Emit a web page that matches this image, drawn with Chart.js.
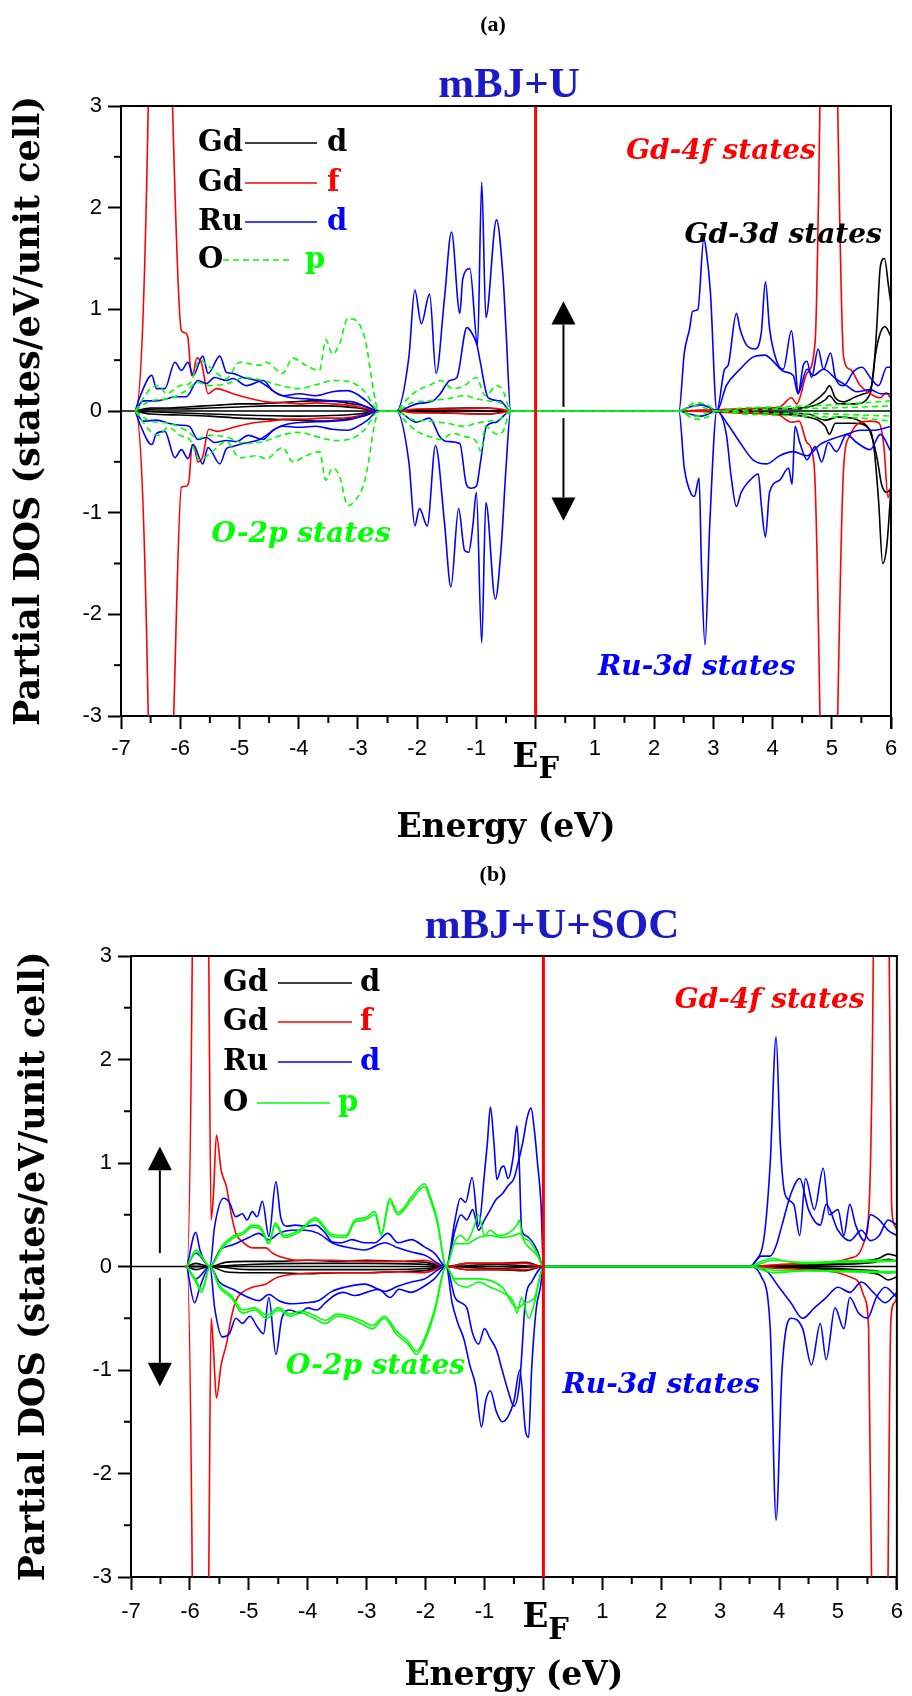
<!DOCTYPE html>
<html><head><meta charset="utf-8">
<script src="https://cdn.jsdelivr.net/npm/chart.js@4.4.1/dist/chart.umd.min.js"></script>
<style>
html,body{margin:0;padding:0;background:#fff;}
#wrap{position:relative;width:912px;height:1696px;}
canvas{position:absolute;left:0;width:912px;height:848px;}
#ca{top:0}
#cb{top:848px}
</style></head><body>
<div id="wrap"><canvas id="ca" width="912" height="848"></canvas><canvas id="cb" width="912" height="848"></canvas></div>
<script>
// ---------- axis ticks ----------
const xTickValues = [-7,-6,-5,-4,-3,-2,-1,0,1,2,3,4,5,6];
const yTickValues = [-3,-2,-1,0,1,2,3];
const xMinorValues = [-6.5,-5.5,-4.5,-3.5,-2.5,-1.5,-0.5,0.5,1.5,2.5,3.5,4.5,5.5];
const yMinorValues = [-2.5,-1.5,-0.5,0.5,1.5,2.5];
const fermiLabel = ['E','F'];
const legendA = [['Gd','d'],['Gd','f'],['Ru','d'],['O','p']];

// ---------- (a) mBJ+U : [energy, PDOS] ----------
const aGdfUp = [[-6.8,0],[-6.76,0],[-6.54,3.0],[-6.5,5],[-6.2,5],[-6.13,3.0],[-5.98,0.79],[-5.92,0.77],[-5.87,0.72],[-5.81,0.35],[-5.78,0.37],[-5.72,0.52],[-5.64,0.47],[-5.53,0.17],[-5.39,0.22],[-5.11,0.17],[-4.8,0.12],[-4.55,0.09],[-4.2,0.08],[-3.99,0.07],[-3.7,0.08],[-3.43,0.07],[-3.2,0.06],[-2.98,0.04],[-2.64,0],[-2.35,0],[-2.0,0.02],[-1.5,0.02],[-1.0,0.03],[-0.6,0.02],[-0.42,0],[2.42,0],[3.0,0.01],[3.5,0.02],[4.12,0.04],[4.32,0.13],[4.41,0.07],[4.58,0.37],[4.72,0.69],[4.8,3.0],[4.84,5],[5.05,5],[5.1,3.0],[5.2,0.53],[5.31,0.41],[5.48,0.25],[5.65,0.17],[5.82,0.13],[5.92,0.18],[6.0,0.12]];
const aGdfDn = [[-6.8,0],[-6.76,0],[-6.54,-3.0],[-6.5,-5],[-6.2,-5],[-6.11,-3.0],[-5.98,-0.75],[-5.9,-0.74],[-5.85,-0.68],[-5.8,-0.33],[-5.76,-0.36],[-5.7,-0.5],[-5.62,-0.45],[-5.52,-0.18],[-5.38,-0.2],[-5.1,-0.16],[-4.8,-0.12],[-4.5,-0.1],[-4.2,-0.08],[-3.9,-0.08],[-3.6,-0.07],[-3.3,-0.07],[-3.0,-0.05],[-2.64,0],[-2.35,0],[-2.0,-0.02],[-1.5,-0.02],[-1.0,-0.03],[-0.6,-0.02],[-0.42,0],[2.42,0],[3.5,-0.02],[4.1,-0.04],[4.32,-0.11],[4.45,-0.1],[4.58,-0.31],[4.7,-0.52],[4.8,-3.0],[4.84,-5],[5.05,-5],[5.1,-3.0],[5.2,-0.56],[5.3,-0.25],[5.45,-0.12],[5.65,-0.1],[5.8,-0.12],[5.88,-0.35],[5.95,-0.85],[6.0,-0.75]];
const aGddUp1 = [[-6.76,0],[-6.5,0.03],[-6.2,0.03],[-5.9,0.04],[-5.6,0.05],[-5.3,0.06],[-5.0,0.07],[-4.7,0.07],[-4.4,0.08],[-4.1,0.09],[-3.8,0.1],[-3.5,0.1],[-3.2,0.08],[-2.9,0.05],[-2.64,0],[-2.35,0],[-1.8,0.02],[-1.2,0.03],[-0.8,0.03],[-0.42,0],[2.42,0],[3.0,0.01],[3.5,0.02],[4.0,0.03],[4.46,0.02],[4.69,0.09],[4.89,0.19],[4.96,0.25],[5.06,0.13],[5.2,0.09],[5.37,0.13],[5.54,0.17],[5.65,0.21],[5.71,0.41],[5.76,0.83],[5.82,1.42],[5.89,1.5],[5.96,1.22],[6.0,1.05]];
const aGddUp2 = [[-6.76,0],[-6.4,0.02],[-6.0,0.02],[-5.5,0.03],[-5.0,0.04],[-4.5,0.05],[-4.0,0.05],[-3.5,0.05],[-3.0,0.03],[-2.64,0],[-2.35,0],[-1.5,0.01],[-0.42,0],[2.42,0],[4.0,0.02],[4.6,0.04],[4.89,0.11],[4.96,0.15],[5.1,0.07],[5.4,0.07],[5.65,0.17],[5.73,0.53],[5.82,0.77],[5.9,0.83],[6.0,0.73]];
const aGddDn1 = [[-6.76,0],[-6.5,-0.03],[-6.0,-0.04],[-5.5,-0.05],[-5.0,-0.07],[-4.5,-0.08],[-4.0,-0.09],[-3.6,-0.1],[-3.2,-0.08],[-2.9,-0.05],[-2.64,0],[-2.35,0],[-1.5,-0.02],[-0.8,-0.03],[-0.42,0],[2.42,0],[4.0,-0.03],[4.6,-0.06],[4.89,-0.15],[4.96,-0.23],[5.06,-0.12],[5.37,-0.12],[5.65,-0.19],[5.72,-0.4],[5.79,-0.88],[5.86,-1.5],[5.93,-1.32],[6.0,-0.76]];
const aGddDn2 = [[-6.76,0],[-6.0,-0.02],[-5.0,-0.04],[-4.0,-0.05],[-3.0,-0.03],[-2.64,0],[2.42,0],[4.6,-0.03],[4.89,-0.09],[5.1,-0.06],[5.6,-0.15],[5.7,-0.3],[5.77,-0.48],[5.84,-0.72],[5.93,-0.8],[6.0,-0.76]];
const aRudUp1 = [[-6.76,0],[-6.68,0.14],[-6.48,0.35],[-6.4,0.22],[-6.26,0.22],[-6.09,0.48],[-5.98,0.4],[-5.87,0.48],[-5.78,0.35],[-5.62,0.54],[-5.53,0.37],[-5.33,0.54],[-5.22,0.38],[-5.11,0.37],[-4.94,0.33],[-4.66,0.29],[-4.55,0.25],[-4.27,0.15],[-3.99,0.17],[-3.71,0.15],[-3.43,0.19],[-3.17,0.2],[-3.03,0.17],[-2.86,0.1],[-2.64,0],[-2.35,0],[-2.14,0.53],[-2.04,1.19],[-1.93,0.86],[-1.79,1.15],[-1.68,0.37],[-1.54,1.1],[-1.42,1.76],[-1.28,0.96],[-1.23,1.3],[-1.11,1.4],[-0.98,0.65],[-0.91,2.25],[-0.84,0.92],[-0.66,1.88],[-0.55,1.32],[-0.5,0.8],[-0.42,0],[2.42,0],[2.51,0.57],[2.6,0.81],[2.65,0.98],[2.74,1.0],[2.84,1.7],[2.88,1.58],[2.95,1.18],[3.06,0],[3.19,0.41],[3.25,0.45],[3.39,0.96],[3.45,0.81],[3.56,0.65],[3.7,0.61],[3.81,0.77],[3.88,1.27],[3.95,0.81],[4.07,0.49],[4.18,0.41],[4.32,0.79],[4.38,0.49],[4.43,0.17],[4.52,0.45],[4.58,0.49],[4.66,0.33],[4.77,0.61],[4.86,0.41],[4.98,0.57],[5.06,0.33],[5.2,0.25],[5.37,0.39],[5.51,0.43],[5.65,0.33],[5.79,0.25],[5.93,0.43],[6.0,0.43]];
const aRudUp2 = [[-6.76,0],[-6.62,0.1],[-6.4,0.1],[-6.23,0.12],[-6.09,0.14],[-5.9,0.14],[-5.7,0.3],[-5.56,0.27],[-5.42,0.33],[-5.22,0.3],[-5.11,0.32],[-4.88,0.25],[-4.6,0.3],[-4.44,0.2],[-4.21,0.14],[-3.88,0.12],[-3.43,0.1],[-3.09,0.09],[-2.64,0],[-2.35,0],[-2.01,0.07],[-1.73,0.1],[-1.61,0.17],[-1.45,0.3],[-1.33,0.33],[-1.16,0.82],[-1.08,0.77],[-0.99,0.65],[-0.94,0.5],[-0.8,0.13],[-0.6,0.1],[-0.42,0],[2.42,0],[2.6,0.04],[2.8,0.06],[2.95,0.03],[3.06,0],[3.22,0.25],[3.45,0.41],[3.67,0.53],[3.87,0.55],[4.01,0.49],[4.18,0.39],[4.35,0.35],[4.43,0.17],[4.58,0.41],[4.69,0.35],[4.86,0.41],[5.08,0.31],[5.25,0.25],[5.42,0.19],[5.65,0.21],[5.82,0.17],[6.0,0.17]];
const aRudDn1 = [[-6.76,0],[-6.68,-0.13],[-6.48,-0.33],[-6.4,-0.22],[-6.26,-0.2],[-6.09,-0.46],[-5.98,-0.38],[-5.87,-0.47],[-5.78,-0.33],[-5.62,-0.52],[-5.53,-0.36],[-5.33,-0.52],[-5.22,-0.37],[-5.11,-0.35],[-4.94,-0.32],[-4.66,-0.28],[-4.55,-0.24],[-4.27,-0.15],[-3.99,-0.16],[-3.71,-0.15],[-3.43,-0.18],[-3.17,-0.19],[-3.03,-0.16],[-2.86,-0.1],[-2.64,0],[-2.35,0],[-2.14,-0.5],[-2.04,-1.13],[-1.96,-0.96],[-1.83,-1.13],[-1.69,-0.34],[-1.54,-1.09],[-1.43,-1.73],[-1.3,-0.96],[-1.2,-1.37],[-1.13,-1.39],[-1.06,-1.13],[-1.0,-0.8],[-0.91,-2.28],[-0.84,-0.9],[-0.68,-1.85],[-0.58,-1.33],[-0.5,-0.56],[-0.42,0],[2.42,0],[2.51,-0.56],[2.63,-0.82],[2.68,-0.84],[2.76,-0.66],[2.8,-1.52],[2.86,-2.3],[2.94,-1.12],[3.06,0],[3.22,-0.23],[3.3,-0.64],[3.39,-0.94],[3.47,-0.8],[3.62,-0.68],[3.76,-0.62],[3.81,-0.92],[3.88,-1.24],[3.95,-0.8],[4.12,-0.68],[4.27,-0.56],[4.33,-0.72],[4.38,-0.15],[4.46,-0.31],[4.58,-0.48],[4.72,-0.35],[4.83,-0.5],[4.94,-0.31],[5.08,-0.4],[5.25,-0.23],[5.42,-0.31],[5.65,-0.38],[5.82,-0.23],[6.0,-0.4]];
const aRudDn2 = [[-6.76,0],[-6.62,-0.1],[-6.4,-0.09],[-6.2,-0.12],[-6.0,-0.14],[-5.85,-0.15],[-5.7,-0.28],[-5.56,-0.26],[-5.42,-0.31],[-5.22,-0.29],[-5.05,-0.3],[-4.85,-0.24],[-4.6,-0.28],[-4.44,-0.19],[-4.2,-0.13],[-3.9,-0.11],[-3.45,-0.1],[-3.1,-0.08],[-2.64,0],[-2.35,0],[-2.01,-0.11],[-1.79,-0.07],[-1.62,-0.25],[-1.49,-0.3],[-1.28,-0.32],[-1.17,-0.72],[-1.09,-0.76],[-1.0,-0.74],[-0.93,-0.5],[-0.83,-0.15],[-0.67,-0.11],[-0.42,0],[2.42,0],[2.6,-0.03],[2.8,-0.05],[3.06,0],[3.22,-0.11],[3.45,-0.31],[3.67,-0.48],[3.9,-0.52],[4.12,-0.44],[4.35,-0.4],[4.58,-0.44],[4.8,-0.33],[5.03,-0.27],[5.25,-0.23],[5.48,-0.19],[5.7,-0.19],[6.0,-0.15]];
const aOpUp1 = [[-6.76,0],[-6.5,0.22],[-6.37,0.25],[-6.23,0.17],[-6.0,0.25],[-5.84,0.27],[-5.67,0.5],[-5.5,0.43],[-5.22,0.32],[-5.0,0.48],[-4.66,0.45],[-4.55,0.48],[-4.27,0.37],[-4.1,0.52],[-3.88,0.45],[-3.65,0.4],[-3.54,0.7],[-3.43,0.56],[-3.31,0.66],[-3.17,0.91],[-3.03,0.89],[-2.89,0.73],[-2.64,0],[-2.35,0],[-2.2,0.1],[-2.0,0.2],[-1.8,0.25],[-1.6,0.3],[-1.4,0.22],[-1.2,0.25],[-1.0,0.33],[-0.85,0.15],[-0.65,0.25],[-0.55,0.2],[-0.42,0],[2.42,0],[2.7,0.08],[2.9,0.06],[3.06,0],[3.5,0.03],[4.0,0.04],[4.5,0.05],[5.0,0.06],[5.5,0.08],[6.0,0.1]];
const aOpUp2 = [[-6.76,0],[-6.5,0.1],[-6.2,0.12],[-5.9,0.2],[-5.7,0.28],[-5.5,0.25],[-5.2,0.27],[-4.9,0.33],[-4.6,0.3],[-4.3,0.25],[-4.0,0.22],[-3.7,0.26],[-3.4,0.3],[-3.1,0.28],[-2.9,0.2],[-2.64,0],[-2.35,0],[-2.1,0.08],[-1.8,0.1],[-1.5,0.12],[-1.2,0.15],[-1.0,0.12],[-0.8,0.1],[-0.6,0.08],[-0.42,0],[2.42,0],[2.7,0.05],[3.06,0],[4.0,0.02],[5.0,0.03],[6.0,0.05]];
const aOpDn1 = [[-6.76,0],[-6.5,-0.2],[-6.37,-0.24],[-6.2,-0.16],[-6.0,-0.24],[-5.84,-0.28],[-5.67,-0.48],[-5.5,-0.42],[-5.22,-0.3],[-5.0,-0.46],[-4.7,-0.44],[-4.55,-0.47],[-4.27,-0.36],[-4.1,-0.5],[-3.88,-0.44],[-3.65,-0.4],[-3.54,-0.68],[-3.43,-0.56],[-3.31,-0.64],[-3.17,-0.93],[-3.03,-0.87],[-2.89,-0.7],[-2.64,0],[-2.35,0],[-2.2,-0.1],[-2.0,-0.2],[-1.8,-0.25],[-1.6,-0.28],[-1.4,-0.22],[-1.2,-0.25],[-1.0,-0.3],[-0.92,-0.4],[-0.85,-0.15],[-0.65,-0.23],[-0.55,-0.2],[-0.42,0],[2.42,0],[2.7,-0.08],[2.9,-0.06],[3.06,0],[3.5,-0.03],[4.0,-0.04],[4.5,-0.05],[5.0,-0.06],[5.5,-0.07],[6.0,-0.1]];
const aOpDn2 = [[-6.76,0],[-6.5,-0.1],[-6.2,-0.12],[-5.9,-0.19],[-5.7,-0.27],[-5.5,-0.24],[-5.2,-0.26],[-4.9,-0.32],[-4.6,-0.3],[-4.3,-0.24],[-4.0,-0.21],[-3.7,-0.25],[-3.4,-0.29],[-3.1,-0.27],[-2.9,-0.19],[-2.64,0],[-2.35,0],[-2.1,-0.08],[-1.8,-0.1],[-1.5,-0.12],[-1.2,-0.15],[-1.0,-0.12],[-0.8,-0.1],[-0.6,-0.08],[-0.42,0],[2.42,0],[2.7,-0.05],[3.06,0],[4.0,-0.02],[5.0,-0.03],[6.0,-0.05]];

// ---------- (b) mBJ+U+SOC : [energy, PDOS] ----------
const bGdfUp = [[-6.1,0],[-6.05,0],[-5.96,3.0],[-5.94,5],[-5.71,5],[-5.68,3.0],[-5.64,0.45],[-5.6,0.7],[-5.55,1.27],[-5.47,0.93],[-5.38,0.77],[-5.3,0.51],[-5.22,0.32],[-5.11,0.24],[-4.94,0.18],[-4.71,0.18],[-4.6,0.13],[-4.49,0.1],[-4.15,0.06],[-3.59,0.06],[-3.03,0.05],[-2.47,0.05],[-2.02,0.06],[-1.65,0],[-1.3,0.03],[-0.8,0.03],[-0.3,0.03],[0,0],[3.5,0],[4.0,0.02],[4.5,0.03],[5.0,0.05],[5.2,0.08],[5.35,0.12],[5.45,0.25],[5.53,0.6],[5.6,3.0],[5.62,5],[5.85,5],[5.87,3.0],[5.91,0.6],[5.96,0.4],[6.0,0.35]];
const bGdfDn = [[-6.1,0],[-6.05,0],[-5.96,-3.0],[-5.94,-5],[-5.71,-5],[-5.68,-3.0],[-5.64,-0.5],[-5.6,-0.8],[-5.55,-1.27],[-5.47,-0.95],[-5.38,-0.75],[-5.3,-0.5],[-5.22,-0.33],[-5.11,-0.25],[-4.94,-0.2],[-4.71,-0.17],[-4.6,-0.13],[-4.49,-0.1],[-4.15,-0.07],[-3.59,-0.06],[-3.03,-0.06],[-2.47,-0.05],[-2.02,-0.06],[-1.65,0],[-1.3,-0.03],[-0.8,-0.03],[-0.3,-0.03],[0,0],[3.5,0],[4.0,-0.02],[4.5,-0.03],[5.0,-0.06],[5.2,-0.1],[5.35,-0.15],[5.45,-0.3],[5.52,-0.6],[5.57,-3.0],[5.59,-5],[5.83,-5],[5.85,-3.0],[5.9,-0.5],[5.96,-0.35],[6.0,-0.3]];
const bGddUp1 = [[-6.05,0],[-5.9,0.03],[-5.66,0],[-5.4,0.04],[-5.0,0.05],[-4.5,0.05],[-4.0,0.06],[-3.5,0.05],[-3.0,0.06],[-2.5,0.05],[-2.0,0.04],[-1.65,0],[-1.3,0.03],[-0.8,0.03],[-0.3,0.04],[0,0],[3.5,0],[4.0,0.01],[4.5,0.02],[5.0,0.03],[5.4,0.05],[5.7,0.08],[5.85,0.12],[6.0,0.1]];
const bGddUp2 = [[-6.05,0],[-5.66,0],[-5.0,0.02],[-4.0,0.03],[-3.0,0.03],[-2.0,0.02],[-1.65,0],[-0.8,0.02],[0,0],[3.5,0],[5.0,0.02],[5.6,0.04],[5.85,0.07],[6.0,0.05]];
const bGddDn1 = [[-6.05,0],[-5.9,-0.03],[-5.66,0],[-5.4,-0.05],[-5.0,-0.06],[-4.5,-0.06],[-4.0,-0.07],[-3.5,-0.06],[-3.0,-0.06],[-2.5,-0.05],[-2.0,-0.04],[-1.65,0],[-1.3,-0.03],[-0.8,-0.03],[-0.3,-0.04],[0,0],[3.5,0],[4.5,-0.02],[5.0,-0.03],[5.4,-0.05],[5.7,-0.08],[5.85,-0.13],[6.0,-0.1]];
const bGddDn2 = [[-6.05,0],[-5.66,0],[-5.0,-0.03],[-4.0,-0.03],[-3.0,-0.03],[-2.0,-0.02],[-1.65,0],[-0.8,-0.02],[0,0],[3.5,0],[5.0,-0.02],[5.6,-0.04],[5.85,-0.06],[6.0,-0.05]];
const bRudUp1 = [[-6.05,0],[-5.9,0.33],[-5.83,0.16],[-5.66,0],[-5.58,0.39],[-5.43,0.66],[-5.33,0.62],[-5.22,0.48],[-5.11,0.51],[-5.03,0.45],[-4.94,0.53],[-4.86,0.48],[-4.77,0.63],[-4.66,0.29],[-4.54,0.82],[-4.46,0.48],[-4.35,0.39],[-4.21,0.4],[-4.04,0.39],[-3.87,0.4],[-3.7,0.32],[-3.59,0.24],[-3.42,0.23],[-3.25,0.26],[-3.03,0.23],[-2.86,0.23],[-2.64,0.32],[-2.47,0.23],[-2.24,0.26],[-2.02,0.19],[-1.85,0.13],[-1.65,0],[-1.5,0.45],[-1.41,0.66],[-1.32,0.62],[-1.21,0.86],[-1.1,0.39],[-1.0,0.9],[-0.95,1.2],[-0.9,1.54],[-0.84,1.2],[-0.79,0.84],[-0.72,0.95],[-0.67,0.97],[-0.6,0.85],[-0.51,1.07],[-0.45,1.36],[-0.41,1.0],[-0.37,0.36],[-0.3,0.3],[-0.2,0.25],[-0.1,0.15],[0,0],[3.5,0],[3.6,0.05],[3.75,0.3],[3.85,1.0],[3.95,2.22],[4.02,1.2],[4.1,0.7],[4.25,0.6],[4.35,0.3],[4.45,0.85],[4.6,0.55],[4.75,0.95],[4.85,0.5],[5.0,0.55],[5.1,0.3],[5.2,0.6],[5.3,0.4],[5.45,0.25],[5.55,0.5],[5.7,0.45],[5.85,0.35],[6.0,0.3]];
const bRudUp2 = [[-6.05,0],[-5.9,0.13],[-5.66,0],[-5.49,0.16],[-5.27,0.21],[-5.0,0.28],[-4.83,0.32],[-4.66,0.26],[-4.49,0.32],[-4.27,0.35],[-4.04,0.35],[-3.82,0.32],[-3.59,0.23],[-3.37,0.19],[-3.03,0.16],[-2.69,0.23],[-2.47,0.18],[-2.24,0.14],[-2.02,0.11],[-1.65,0],[-1.5,0.35],[-1.4,0.5],[-1.3,0.45],[-1.2,0.55],[-1.1,0.35],[-1.0,0.45],[-0.9,0.55],[-0.8,0.65],[-0.7,0.7],[-0.6,0.78],[-0.5,0.85],[-0.43,1.0],[-0.35,1.2],[-0.27,1.45],[-0.21,1.53],[-0.15,1.3],[-0.1,1.0],[-0.04,0.6],[0,0],[3.5,0],[3.7,0.1],[3.85,0.1],[3.95,0.2],[4.05,0.4],[4.2,0.7],[4.35,0.85],[4.5,0.55],[4.7,0.4],[4.8,0.6],[5.0,0.35],[5.2,0.25],[5.4,0.35],[5.55,0.25],[5.7,0.3],[5.85,0.45],[6.0,0.4]];
const bRudDn1 = [[-6.05,0],[-5.92,-0.35],[-5.83,-0.2],[-5.66,0],[-5.58,-0.4],[-5.45,-0.68],[-5.33,-0.65],[-5.22,-0.5],[-5.11,-0.55],[-4.98,-0.48],[-4.86,-0.58],[-4.75,-0.65],[-4.66,-0.3],[-4.54,-0.85],[-4.44,-0.5],[-4.3,-0.42],[-4.15,-0.45],[-4.0,-0.4],[-3.85,-0.42],[-3.7,-0.35],[-3.55,-0.28],[-3.4,-0.25],[-3.2,-0.28],[-3.0,-0.25],[-2.8,-0.22],[-2.6,-0.3],[-2.45,-0.22],[-2.25,-0.25],[-2.05,-0.2],[-1.85,-0.12],[-1.65,0],[-1.55,-0.35],[-1.45,-0.55],[-1.35,-0.7],[-1.25,-0.95],[-1.15,-1.15],[-1.05,-1.55],[-0.98,-1.3],[-0.9,-1.2],[-0.8,-1.4],[-0.7,-1.5],[-0.6,-1.45],[-0.5,-1.3],[-0.4,-1.0],[-0.3,-1.6],[-0.25,-1.65],[-0.2,-1.0],[-0.12,-0.4],[-0.05,-0.2],[0,0],[3.5,0],[3.7,-0.1],[3.85,-0.6],[3.95,-2.45],[4.05,-1.0],[4.2,-0.5],[4.4,-0.6],[4.55,-0.95],[4.7,-0.55],[4.8,-0.9],[4.95,-0.4],[5.1,-0.6],[5.2,-0.3],[5.35,-0.45],[5.5,-0.5],[5.65,-0.3],[5.8,-0.2],[6.0,-0.3]];
const bRudDn2 = [[-6.05,0],[-5.9,-0.12],[-5.66,0],[-5.5,-0.15],[-5.27,-0.22],[-5.0,-0.3],[-4.83,-0.33],[-4.66,-0.27],[-4.49,-0.33],[-4.27,-0.36],[-4.04,-0.35],[-3.82,-0.33],[-3.59,-0.24],[-3.37,-0.2],[-3.03,-0.17],[-2.69,-0.24],[-2.47,-0.19],[-2.24,-0.15],[-2.02,-0.12],[-1.65,0],[-1.5,-0.3],[-1.4,-0.35],[-1.3,-0.4],[-1.2,-0.65],[-1.1,-0.75],[-1.0,-0.6],[-0.9,-0.7],[-0.8,-0.8],[-0.7,-1.0],[-0.6,-1.2],[-0.5,-1.35],[-0.4,-1.1],[-0.3,-0.3],[-0.2,-0.15],[0,0],[3.5,0],[3.8,-0.05],[4.0,-0.2],[4.2,-0.35],[4.4,-0.5],[4.6,-0.4],[4.8,-0.3],[5.0,-0.2],[5.2,-0.25],[5.4,-0.15],[5.6,-0.25],[5.8,-0.35],[6.0,-0.25]];
const bOpUp1 = [[-6.05,0],[-5.89,0.16],[-5.78,0.08],[-5.66,0],[-5.45,0.2],[-5.25,0.3],[-5.1,0.33],[-4.94,0.4],[-4.8,0.38],[-4.66,0.24],[-4.55,0.42],[-4.4,0.3],[-4.15,0.35],[-3.87,0.47],[-3.59,0.31],[-3.35,0.3],[-3.2,0.45],[-3.03,0.47],[-2.86,0.53],[-2.75,0.32],[-2.61,0.66],[-2.47,0.52],[-2.24,0.67],[-2.02,0.8],[-1.91,0.66],[-1.8,0.45],[-1.65,0],[-1.5,0.25],[-1.4,0.3],[-1.3,0.25],[-1.2,0.35],[-1.1,0.5],[-1.0,0.3],[-0.9,0.35],[-0.77,0.3],[-0.6,0.32],[-0.45,0.4],[-0.41,0.45],[-0.36,0.3],[-0.25,0.25],[-0.1,0.12],[0,0],[3.5,0],[3.7,0.05],[3.9,0.08],[4.1,0.05],[4.5,0.04],[5.0,0.05],[5.5,0.06],[6.0,0.06]];
const bOpUp2 = [[-6.05,0],[-5.89,0.14],[-5.66,0],[-5.45,0.18],[-5.25,0.28],[-5.1,0.31],[-4.94,0.38],[-4.8,0.36],[-4.66,0.22],[-4.55,0.4],[-4.4,0.28],[-4.15,0.33],[-3.87,0.45],[-3.59,0.29],[-3.35,0.28],[-3.2,0.43],[-3.03,0.45],[-2.86,0.5],[-2.75,0.3],[-2.61,0.63],[-2.47,0.5],[-2.24,0.64],[-2.02,0.77],[-1.91,0.63],[-1.8,0.42],[-1.65,0],[-1.5,0.22],[-1.3,0.22],[-1.1,0.28],[-0.9,0.3],[-0.7,0.28],[-0.5,0.3],[-0.4,0.32],[-0.3,0.22],[-0.1,0.1],[0,0],[3.5,0],[3.9,0.06],[4.5,0.03],[5.0,0.04],[6.0,0.05]];
const bOpDn1 = [[-6.05,0],[-5.9,-0.15],[-5.8,-0.25],[-5.66,0],[-5.5,-0.2],[-5.3,-0.3],[-5.1,-0.45],[-4.9,-0.42],[-4.7,-0.5],[-4.5,-0.42],[-4.3,-0.48],[-4.1,-0.45],[-3.9,-0.5],[-3.7,-0.55],[-3.5,-0.48],[-3.3,-0.5],[-3.1,-0.55],[-2.9,-0.6],[-2.7,-0.5],[-2.5,-0.65],[-2.3,-0.75],[-2.15,-0.85],[-2.0,-0.7],[-1.85,-0.45],[-1.65,0],[-1.5,-0.15],[-1.3,-0.2],[-1.1,-0.15],[-0.9,-0.2],[-0.7,-0.25],[-0.5,-0.35],[-0.45,-0.45],[-0.37,-0.3],[-0.25,-0.5],[-0.15,-0.35],[0,0],[3.5,0],[3.9,-0.06],[4.5,-0.04],[5.0,-0.05],[6.0,-0.06]];
const bOpDn2 = [[-6.05,0],[-5.9,-0.13],[-5.8,-0.22],[-5.66,0],[-5.5,-0.18],[-5.3,-0.28],[-5.1,-0.42],[-4.9,-0.4],[-4.7,-0.47],[-4.5,-0.4],[-4.3,-0.46],[-4.1,-0.43],[-3.9,-0.47],[-3.7,-0.52],[-3.5,-0.46],[-3.3,-0.48],[-3.1,-0.52],[-2.9,-0.57],[-2.7,-0.48],[-2.5,-0.62],[-2.3,-0.72],[-2.15,-0.82],[-2.0,-0.67],[-1.85,-0.42],[-1.65,0],[-1.5,-0.12],[-1.1,-0.12],[-0.7,-0.2],[-0.45,-0.4],[-0.3,-0.35],[-0.15,-0.3],[0,0],[3.5,0],[4.0,-0.04],[5.0,-0.04],[6.0,-0.05]];

// ---------- styling ----------
const C_BLACK='#000000', C_RED='#ff0000', C_BLUE='#0000ff', C_GREEN='#00ff00', C_TITLE='#1a1ac8';
const SERIF='"DejaVu Serif"';

function pts(a){ return a.map(p => ({x:p[0], y:p[1]})); }
function ds(data,color,dash){
  return {data:pts(data), borderColor:color, backgroundColor:color, borderWidth:1.6, borderDash:dash||[],
    showLine:true, pointRadius:0, pointHoverRadius:0, fill:false, cubicInterpolationMode:'monotone', clip:0};
}

const panels = [
  { id:'ca', L:121, T:106, R:891, B:716, H:848, padL:0,
    tag:'(a)', tagX:493, tagY:25, title:'mBJ+U', titleX:509, titleY:86, titleSize:43,
    yTitlePad:10, xTitlePad:11, xTickPad:7,
    dash:[6,4],
    sets:[[aOpUp1,C_GREEN],[aOpUp2,C_GREEN],[aOpDn1,C_GREEN],[aOpDn2,C_GREEN],
          [aRudUp1,C_BLUE],[aRudUp2,C_BLUE],[aRudDn1,C_BLUE],[aRudDn2,C_BLUE],
          [aGdfUp,C_RED],[aGdfDn,C_RED],
          [aGddUp1,C_BLACK],[aGddUp2,C_BLACK],[aGddDn1,C_BLACK],[aGddDn2,C_BLACK]],
    leg:{tx:77, line:[124,196], lx:206, rows:[37,77,116,154], oLine:[102,171], px:184},
    notes:[['Gd-4f states',3.13,2.55,C_RED],['Gd-3d states',4.18,1.72,C_BLACK],
           ['Ru-3d states',2.72,-2.53,C_BLUE],['O-2p states',-3.96,-1.22,C_GREEN]],
    arrow:{x:0.47, up:[0.04,0.85,1.08], dn:[-0.07,-0.85,-1.08]},
    ef:{dx:-23, ey:42, fy:54}
  },
  { id:'cb', L:131, T:108, R:901, B:729, H:848, padL:0,
    tag:'(b)', tagX:493, tagY:27, title:'mBJ+U+SOC', titleX:552, titleY:79, titleSize:43,
    yTitlePad:15, xTitlePad:2, xTickPad:9,
    dash:[],
    sets:[[bOpUp1,C_GREEN],[bOpUp2,C_GREEN],[bOpDn1,C_GREEN],[bOpDn2,C_GREEN],
          [bRudUp1,C_BLUE],[bRudUp2,C_BLUE],[bRudDn1,C_BLUE],[bRudDn2,C_BLUE],
          [bGdfUp,C_RED],[bGdfDn,C_RED],
          [bGddUp1,C_BLACK],[bGddUp2,C_BLACK],[bGddDn1,C_BLACK],[bGddDn2,C_BLACK]],
    leg:{tx:92, line:[147,221], lx:229, rows:[27,66,106,147], oLine:[126,199], px:207},
    notes:[['Gd-4f states',3.84,2.57,C_RED],['Ru-3d states',2.0,-1.15,C_BLUE],['O-2p states',-2.85,-0.97,C_GREEN]],
    arrow:{x:-6.51, up:[0.13,0.93,1.16], dn:[-0.11,-0.93,-1.16]},
    ef:{dx:-21, ey:41, fy:54}
  }
];

function text(ctx,s,x,y,font,color,align){
  ctx.font=font; ctx.fillStyle=color; ctx.textAlign=align||'center'; ctx.textBaseline='middle'; ctx.fillText(s,x,y);
}
function seg(ctx,x1,y1,x2,y2){ ctx.beginPath(); ctx.moveTo(x1,y1); ctx.lineTo(x2,y2); ctx.stroke(); }
function arrow(ctx,x,yStart,yBase,yTip){
  ctx.strokeStyle='#000'; ctx.lineWidth=2; seg(ctx,x,yStart,x,yBase);
  ctx.fillStyle='#000'; ctx.beginPath(); ctx.moveTo(x,yTip); ctx.lineTo(x-12,yBase); ctx.lineTo(x+12,yBase); ctx.closePath(); ctx.fill();
}

function makePlugin(P){
  return {
    id:'extras_'+P.id,
    beforeDatasetsDraw(chart){
      const {ctx, chartArea:a, scales:{y}} = chart;
      ctx.save(); ctx.strokeStyle='#000'; ctx.lineWidth=1.3;
      const y0 = y.getPixelForValue(0); seg(ctx,a.left,y0,a.right,y0); ctx.restore();
    },
    afterDatasetsDraw(chart){
      const {ctx, chartArea:a, scales:{x,y}} = chart;
      ctx.save();
      const x0 = x.getPixelForValue(0);
      ctx.strokeStyle=C_RED; ctx.lineWidth=3; seg(ctx,x0,a.top,x0,a.bottom);
      ctx.strokeStyle='#000'; ctx.lineWidth=2;
      seg(ctx,a.left-1,a.top,a.right+1,a.top); seg(ctx,a.right,a.top,a.right,a.bottom+13);
      xMinorValues.forEach(v=>{ const px=x.getPixelForValue(v); seg(ctx,px,a.bottom,px,a.bottom+7); });
      yMinorValues.forEach(v=>{ const py=y.getPixelForValue(v); seg(ctx,a.left,py,a.left-7,py); });
      const ax = x.getPixelForValue(P.arrow.x);
      arrow(ctx,ax,y.getPixelForValue(P.arrow.up[0]),y.getPixelForValue(P.arrow.up[1]),y.getPixelForValue(P.arrow.up[2]));
      arrow(ctx,ax,y.getPixelForValue(P.arrow.dn[0]),y.getPixelForValue(P.arrow.dn[1]),y.getPixelForValue(P.arrow.dn[2]));
      const lf='bold 29px '+SERIF, G=P.leg;
      const cols=[C_BLACK,C_RED,C_BLUE,C_GREEN];
      legendA.forEach((row,i)=>{
        const ry=a.top+G.rows[i];
        text(ctx,row[0],a.left+G.tx,ry,lf,'#000','left');
        ctx.strokeStyle=cols[i]; ctx.lineWidth=1.6;
        if(i===3){ ctx.setLineDash(P.dash); seg(ctx,a.left+G.oLine[0],ry,a.left+G.oLine[1],ry); ctx.setLineDash([]);
          text(ctx,row[1],a.left+G.px,ry,lf,cols[i],'left'); }
        else { seg(ctx,a.left+G.line[0],ry,a.left+G.line[1],ry); text(ctx,row[1],a.left+G.lx,ry,lf,cols[i],'left'); }
      });
      P.notes.forEach(n=>text(ctx,n[0],x.getPixelForValue(n[1]),y.getPixelForValue(n[2]),'italic bold 28px '+SERIF,n[3],'center'));
      ctx.font='bold 34px '+SERIF; const ew=ctx.measureText(fermiLabel[0]).width;
      text(ctx,fermiLabel[0],x0+P.ef.dx,a.bottom+P.ef.ey,'bold 34px '+SERIF,'#000','left');
      text(ctx,fermiLabel[1],x0+P.ef.dx+ew,a.bottom+P.ef.fy,'bold 29px '+SERIF,'#000','left');
      text(ctx,P.tag,P.tagX,P.tagY,'bold 22px "Liberation Serif"','#000','center');
      text(ctx,P.title,P.titleX,P.titleY,'bold '+P.titleSize+'px "Liberation Serif"',C_TITLE,'center');
      ctx.restore();
    }
  };
}

panels.forEach(P=>{
  new Chart(document.getElementById(P.id), {
    type:'scatter',
    data:{datasets:P.sets.map(s=>ds(s[0],s[1],s[1]===C_GREEN?P.dash:[]))},
    options:{
      responsive:false, animation:false, devicePixelRatio:1, events:[],
      layout:{padding:{left:P.padL, top:P.T, right:912-P.R, bottom:0}},
      plugins:{legend:{display:false}, tooltip:{enabled:false}, title:{display:false}},
      scales:{
        x:{type:'linear', min:-7, max:6,
          afterBuildTicks(s){ s.ticks = xTickValues.map(v=>({value:v})); },
          afterFit(s){ s.height = P.H - P.B; },
          ticks:{callback:v=> v===0 ? '' : String(v), font:{family:'"Liberation Sans", Arial, sans-serif', size:22}, color:'#000', padding:P.xTickPad, maxRotation:0, autoSkip:false},
          grid:{drawOnChartArea:false, drawTicks:true, tickLength:13, tickWidth:2, tickColor:'#000'},
          border:{display:true, color:'#000', width:2},
          title:{display:true, text:'Energy (eV)', font:{family:SERIF, weight:'bold', size:33}, color:'#000', padding:{top:P.xTitlePad, bottom:0}}
        },
        y:{type:'linear', min:-3, max:3,
          afterBuildTicks(s){ s.ticks = yTickValues.map(v=>({value:v})); },
          afterFit(s){ s.width = P.L - P.padL; },
          ticks:{callback:v=>String(v), font:{family:'"Liberation Sans", Arial, sans-serif', size:22}, color:'#000', padding:6, autoSkip:false},
          grid:{drawOnChartArea:false, drawTicks:true, tickLength:13, tickWidth:2, tickColor:'#000'},
          border:{display:true, color:'#000', width:2},
          title:{display:true, text:'Partial DOS (states/eV/unit cell)', font:{family:SERIF, weight:'bold', size:35}, color:'#000', padding:{top:P.yTitlePad-1, bottom:0}}
        }
      }
    },
    plugins:[makePlugin(P)]
  });
});
</script></body></html>
